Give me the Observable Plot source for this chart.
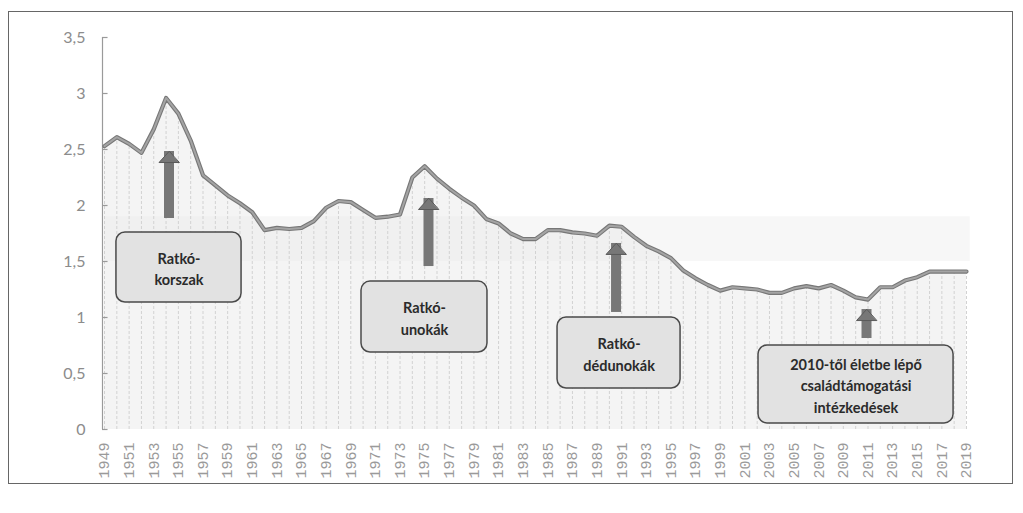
<!DOCTYPE html>
<html>
<head>
<meta charset="utf-8">
<script src="https://cdn.jsdelivr.net/npm/d3@7"></script>
<script src="https://cdn.jsdelivr.net/npm/@observablehq/plot@0.6"></script>
<style>
  html, body { margin: 0; padding: 0; background: #fff; }
  #wrap { position: relative; width: 1023px; height: 513px; overflow: hidden; }
  #frame { position: absolute; left: 8px; top: 11px; width: 1005px; height: 473px; border: 1.5px solid #666; box-sizing: border-box; }
  #chart { position: absolute; left: 0; top: 0; }
</style>
</head>
<body>
<div id="wrap"><div id="frame"></div><div id="chart"></div></div>
<script>
// Teljes termékenységi arányszám, Magyarország
const years = d3.range(1949, 2020);
const values = [
  2.53, 2.61, 2.55, 2.47, 2.68, 2.96, 2.82, 2.58, 2.27, 2.18,
  2.09, 2.02, 1.94, 1.78, 1.80, 1.79, 1.80, 1.86, 1.98, 2.04,
  2.03, 1.96, 1.89, 1.90, 1.92, 2.25, 2.35, 2.24, 2.15, 2.07,
  2.00, 1.88, 1.84, 1.75, 1.70, 1.70, 1.78, 1.78, 1.76, 1.75,
  1.73, 1.82, 1.81, 1.72, 1.64, 1.59, 1.53, 1.42, 1.35, 1.29,
  1.24, 1.27, 1.26, 1.25, 1.22, 1.22, 1.26, 1.28, 1.26, 1.29,
  1.24, 1.18, 1.16, 1.27, 1.27, 1.33, 1.36, 1.41, 1.41, 1.41,
  1.41
];
const yTicks = [0, 0.5, 1, 1.5, 2, 2.5, 3, 3.5];
const xTicks = years.filter(y => y % 2 === 1);

// Annotation texts
const labels = [
  "Ratkó-\nkorszak",
  "Ratkó-\nunokák",
  "Ratkó-\ndédunokák",
  "2010-től életbe lépő\ncsaládtámogatási\nintézkedések"
];
// Annotation box extents (data units: year, value)
const boxX1 = [1949.97, 1969.87, 1985.79, 2002.11];
const boxX2 = [1960.13, 1980.10, 1995.78, 2017.95];
const boxY1 = [1.134, 0.6875, 0.366, 0.054];
const boxY2 = [1.759, 1.321, 1.000, 0.750];
// Arrow positions (data units)
const arrowX = [1954.24, 1975.31, 1990.54, 2010.88];
const arrowBase = [1.884, 1.455, 1.045, 0.8125];
const arrowTip = [2.482, 2.0625, 1.661, 1.071];

const data = years.map((year, i) => ({year, value: values[i]}));
const boxes = labels.map((text, i) => ({
  text, x1: boxX1[i], x2: boxX2[i], y1: boxY1[i], y2: boxY2[i],
  cx: (boxX1[i] + boxX2[i]) / 2, cy: (boxY1[i] + boxY2[i]) / 2
}));
const arrows = arrowX.map((x, i) => ({x, base: arrowBase[i], tip: arrowTip[i]}));

const headShape = {
  draw(context, l, r) {
    context.moveTo(0, 0);
    context.lineTo(-10, 11);
    context.lineTo(10, 11);
    context.closePath();
  }
};

const chart = Plot.plot({
  width: 1023,
  height: 513,
  marginLeft: 104,
  marginRight: 57,
  marginTop: 37,
  marginBottom: 84,
  style: {background: "transparent", fontFamily: "Lato, sans-serif"},
  x: {domain: [1949, 2019]},
  y: {domain: [0, 3.5]},
  marks: [
    Plot.areaY(data, {x: "year", y: "value", fill: "#f4f4f4", curve: "linear"}),
    Plot.rect([{}], {x1: 1949, x2: 2019.3, y1: 1.5, y2: 1.9, fill: "#e8e8e8", fillOpacity: 0.35}),
    Plot.ruleX(data, {x: "year", y1: 0, y2: "value", stroke: "#d2d2d2", strokeWidth: 1, strokeDasharray: "3,2"}),
    Plot.ruleX([1949], {y1: 0, y2: 3.5, stroke: "#9a9a9a", strokeWidth: 1.2, dx: -2}),
    Plot.ruleY(yTicks, {x1: 1949, x2: 1949.45, stroke: "#9a9a9a", strokeWidth: 1.2, dx: -2}),
    Plot.axisY({ticks: yTicks, tickSize: 0, tickPadding: 19, fontSize: 16, color: "#8c8c8c",
      tickFormat: d => String(d).replace(".", ","), label: null}),
    Plot.axisX({ticks: xTicks, tickSize: 0, tickPadding: 13, tickRotate: -90, fontSize: 15,
      fontFamily: "Liberation Mono, monospace", color: "#9a9a9a", tickFormat: d => String(d), label: null}),
    Plot.lineY(data, {x: "year", y: "value", stroke: "#777", strokeWidth: 4.2, strokeLinejoin: "round"}),
    Plot.lineY(data, {x: "year", y: "value", stroke: "#a4a4a4", strokeWidth: 2, strokeLinejoin: "round"}),
    Plot.ruleX(arrows, {x: "x", y1: "base", y2: "tip", stroke: "#777", strokeWidth: 10, strokeLinecap: "butt"}),
    Plot.vector(arrows, {x: "x", y: "tip", length: 11, anchor: "start", rotate: 0, shape: headShape,
      fill: "#777", stroke: "#5a5a5a", strokeWidth: 1}),
    Plot.rect(boxes, {x1: "x1", x2: "x2", y1: "y1", y2: "y2", rx: 9, fill: "#e2e2e2", stroke: "#4a4a4a", strokeWidth: 1.5}),
    Plot.text(boxes, {x: "cx", y: "cy", text: "text", fontSize: 14.5, fontWeight: "bold", fill: "#2b2b2b",
      lineHeight: 1.5, lineAnchor: "middle", textAnchor: "middle"})
  ]
});
document.getElementById("chart").appendChild(chart);
</script>
</body>
</html>
